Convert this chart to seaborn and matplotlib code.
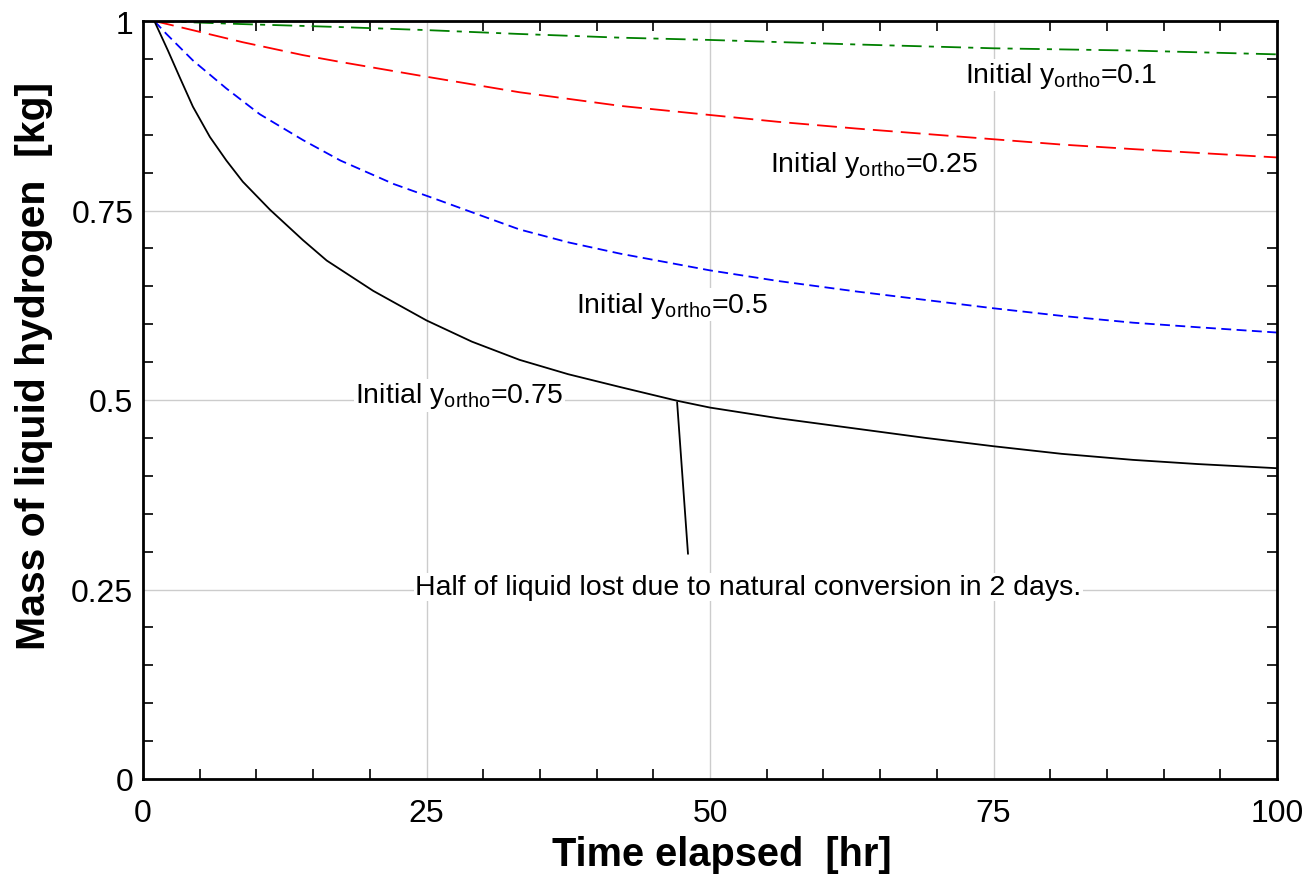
import matplotlib
matplotlib.use("Agg")
import matplotlib.pyplot as plt
import seaborn as sns
import pandas as pd
from matplotlib.ticker import MultipleLocator

# ---- data ----
x_075 = [1, 2.2, 3.23, 4.4, 5.9, 7.35, 8.8, 11.2, 14.1, 16.2, 20.3, 25, 29, 33.2, 37.5, 42.1, 47.1, 50, 56, 63, 69, 75, 81, 87.3, 93, 100]
y_075 = [1.0, 0.961, 0.926, 0.887, 0.847, 0.816, 0.788, 0.751, 0.711, 0.684, 0.644, 0.605, 0.577, 0.553, 0.534, 0.517, 0.499, 0.490, 0.476, 0.462, 0.450, 0.439, 0.429, 0.421, 0.4155, 0.410]

x_050 = [1, 2.06, 4.4, 7.35, 10.3, 14.1, 17.4, 22.1, 26.2, 29.5, 33.2, 37.5, 42.1, 50, 56, 63, 69, 75, 81, 87.3, 93, 100]
y_050 = [1.0, 0.983, 0.948, 0.911, 0.877, 0.843, 0.816, 0.785, 0.763, 0.745, 0.725, 0.708, 0.693, 0.671, 0.657, 0.643, 0.632, 0.621, 0.611, 0.602, 0.596, 0.589]

x_025 = [1, 3.8, 8.8, 14.1, 17.4, 24.4, 33.2, 42.1, 50, 56, 63, 69, 75, 81, 87.3, 93, 100]
y_025 = [1.0, 0.990, 0.972, 0.955, 0.946, 0.928, 0.906, 0.888, 0.876, 0.867, 0.858, 0.851, 0.844, 0.837, 0.831, 0.826, 0.820]

x_010 = [1, 8.6, 17.4, 25, 33, 42.1, 50, 63, 75, 87.3, 100]
y_010 = [1.0, 0.996, 0.992, 0.988, 0.983, 0.978, 0.975, 0.969, 0.964, 0.961, 0.956]

labels = ["Initial y$_{\\mathrm{ortho}}$=0.1",
          "Initial y$_{\\mathrm{ortho}}$=0.25",
          "Initial y$_{\\mathrm{ortho}}$=0.5",
          "Initial y$_{\\mathrm{ortho}}$=0.75"]
label_pos_x = [72.5, 55.3, 38.2, 18.7]
label_pos_y = [0.9195, 0.8025, 0.6165, 0.497]

note_text = "Half of liquid lost due to natural conversion in 2 days."
note_pos = (24.0, 0.244)
leader_x = [47.1, 48.06]
leader_y = [0.497, 0.297]

x_ticks = [0, 25, 50, 75, 100]
x_tick_labels = ["0", "25", "50", "75", "100"]
y_ticks = [0, 0.25, 0.5, 0.75, 1]
y_tick_labels = ["0", "0.25", "0.5", "0.75", "1"]

sns.set_style("ticks")
plt.rcParams['font.family'] = ['Liberation Sans', 'DejaVu Sans']
plt.rcParams['mathtext.fontset'] = 'custom'
plt.rcParams['mathtext.rm'] = 'Liberation Sans'
plt.rcParams['mathtext.it'] = 'Liberation Sans:italic'
plt.rcParams['mathtext.bf'] = 'Liberation Sans:bold'
plt.rcParams['text.color'] = 'black'
plt.rcParams['axes.labelcolor'] = 'black'
plt.rcParams['xtick.color'] = 'black'
plt.rcParams['ytick.color'] = 'black'

fig = plt.figure(figsize=(13.14, 8.78), dpi=100)
ax = fig.add_axes([143/1314, 1 - 780/878, (1277-143)/1314, (780-22)/878])

series = [
    (x_010, y_010, "green", (11, 4, 2.8, 4)),
    (x_025, y_025, "red", (11, 4.5)),
    (x_050, y_050, "blue", (5.5, 3)),
    (x_075, y_075, "black", None),
]
for xs, ys, col, dash in series:
    df = pd.DataFrame({"t": xs, "m": ys})
    sns.lineplot(data=df, x="t", y="m", ax=ax, color=col, linewidth=1.3)
    line = ax.lines[-1]
    if dash is not None:
        line.set_dashes(dash)

ax.plot(leader_x, leader_y, color='black', linewidth=1.3, zorder=4)

ax.set_xlim(0, 100)
ax.set_ylim(0, 1)
ax.set_xticks(x_ticks)
ax.set_xticklabels(x_tick_labels)
ax.set_yticks(y_ticks)
ax.set_yticklabels(y_tick_labels)
ax.xaxis.set_minor_locator(MultipleLocator(5))
ax.yaxis.set_minor_locator(MultipleLocator(0.05))
ax.tick_params(which='both', direction='in', top=True, right=True, width=1.2)
ax.tick_params(which='major', length=0, labelsize=23)
ax.tick_params(axis='x', which='major', pad=14)
ax.tick_params(axis='y', which='major', pad=7)
ax.tick_params(which='minor', length=7)
ax.grid(True, which='major', color='#cccccc', linewidth=1.0)
ax.set_axisbelow(True)
for s in ax.spines.values():
    s.set_linewidth(2)
    s.set_color('black')
    s.set_visible(True)

ax.set_xlabel("Time elapsed  [hr]", fontsize=28.6, fontweight='bold')
ax.set_ylabel("Mass of liquid hydrogen  [kg]", fontsize=29.5, fontweight='bold')
ax.xaxis.set_label_coords(0.51, -0.074)
ax.yaxis.set_label_coords(-0.079, 0.546)

for lab, lx, ly in zip(labels, label_pos_x, label_pos_y):
    ax.text(lx, ly, lab, fontsize=20.5, ha='left', va='baseline',
            bbox=dict(facecolor='white', edgecolor='none', pad=1), zorder=5)

ax.text(note_pos[0], note_pos[1], note_text, fontsize=20.5, ha='left', va='baseline',
        bbox=dict(facecolor='white', edgecolor='none', pad=1), zorder=5)

fig.savefig("out.png", dpi=100, facecolor='white')
